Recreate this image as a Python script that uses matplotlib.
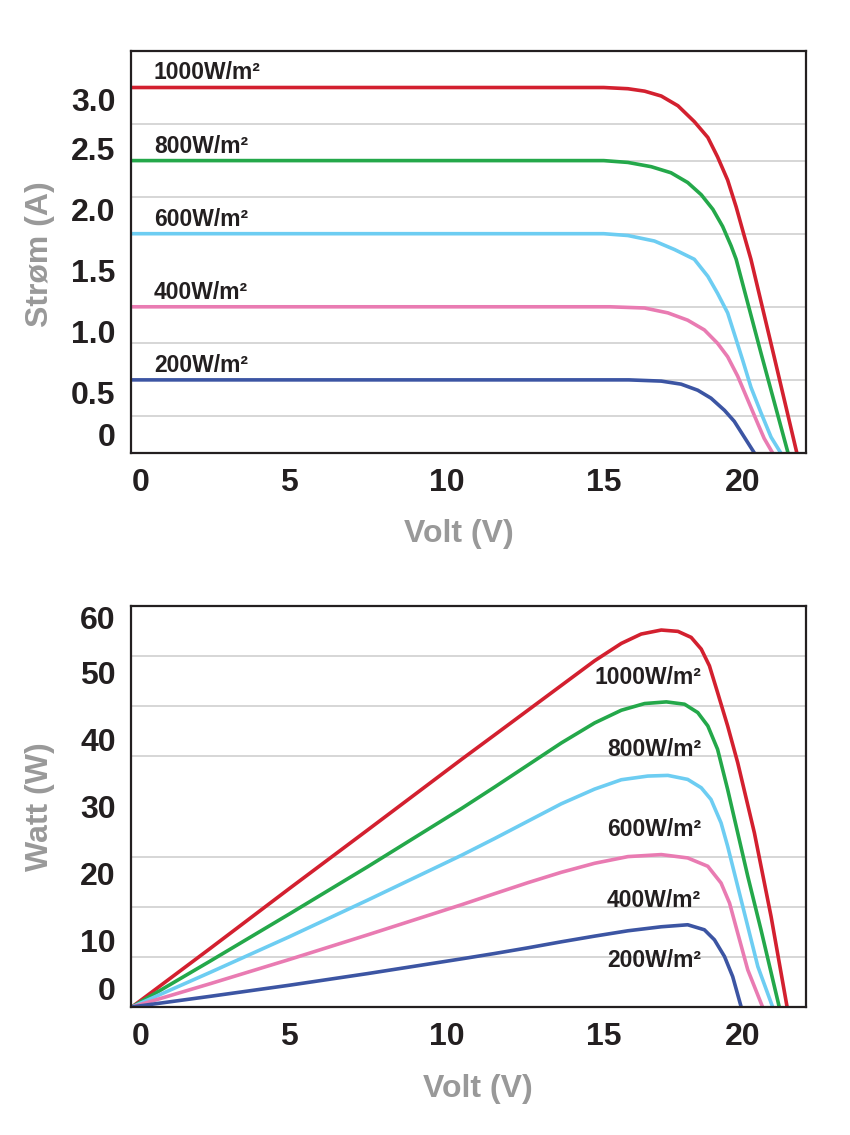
import matplotlib
matplotlib.use("Agg")
import matplotlib.pyplot as plt
from matplotlib.ticker import MultipleLocator, FixedLocator

plt.rcParams['font.family'] = ['Liberation Sans', 'DejaVu Sans']
plt.rcParams['font.weight'] = 'bold'

# irradiance levels (labels) and colours
levels = ['1000W/m²', '800W/m²', '600W/m²', '400W/m²', '200W/m²']
colors = ['#d3202f', '#24a84a', '#6dcdf2', '#e97bb2', '#3c55a3']

# I-V curves (volt, ampere)
iv_v_1000 = [0, 15.0, 15.77, 16.3, 16.83, 17.36, 17.88, 18.31, 18.62, 18.94, 19.21, 19.47, 19.68, 20.4, 21.14]
iv_a_1000 = [3.0, 3.0, 2.99, 2.97, 2.93, 2.85, 2.72, 2.59, 2.43, 2.24, 2.02, 1.78, 1.59, 0.81, 0]
iv_v_800 = [0, 15.0, 15.77, 16.51, 17.14, 17.67, 18.1, 18.47, 18.78, 19.05, 19.21, 20.0, 20.86]
iv_a_800 = [2.4, 2.4, 2.385, 2.35, 2.30, 2.22, 2.12, 2.0, 1.86, 1.70, 1.59, 0.82, 0]
iv_v_600 = [0, 15.0, 15.77, 16.61, 17.25, 17.88, 18.31, 18.62, 18.94, 19.15, 19.42, 19.68, 20.0, 20.32, 20.63]
iv_a_600 = [1.8, 1.8, 1.785, 1.74, 1.67, 1.59, 1.45, 1.31, 1.15, 0.98, 0.76, 0.54, 0.33, 0.13, 0]
iv_v_400 = [0, 15.2, 16.3, 17.04, 17.67, 18.2, 18.62, 18.94, 19.26, 19.58, 19.9, 20.1, 20.37]
iv_a_400 = [1.2, 1.2, 1.19, 1.15, 1.09, 1.01, 0.90, 0.79, 0.63, 0.435, 0.24, 0.12, 0]
iv_v_200 = [0, 15.8, 16.83, 17.46, 17.99, 18.41, 18.84, 19.15, 19.47, 19.79]
iv_a_200 = [0.6, 0.6, 0.59, 0.565, 0.515, 0.45, 0.35, 0.26, 0.13, 0]

# P-V curves (volt, watt)
pv_v_1000 = [0, 2.5, 5.0, 7.5, 10.48, 11.53, 12.59, 13.65, 14.71, 15.56, 16.19, 16.83, 17.36, 17.78, 18.1,
	18.36, 18.62, 18.94, 19.26, 19.79, 20.32, 20.83]
pv_w_1000 = [0, 8.8, 17.7, 26.5, 37.05, 40.7, 44.4, 48.1, 51.8, 54.4, 55.8, 56.4, 56.2, 55.3, 53.55,
	51.05, 47.05, 42.05, 36.55, 26.05, 13.55, 0]
pv_v_800 = [0, 2.5, 5.0, 7.5, 10.48, 11.53, 12.59, 13.65, 14.71, 15.56, 16.3, 16.99, 17.57, 17.99, 18.31,
	18.62, 18.94, 19.26, 19.58, 20.0, 20.58]
pv_w_800 = [0, 6.9, 13.9, 21.0, 29.7, 32.9, 36.2, 39.5, 42.5, 44.4, 45.4, 45.65, 45.3, 44.05, 42.05,
	38.55, 32.55, 26.05, 19.55, 11.55, 0]
pv_v_600 = [0, 2.5, 5.0, 7.5, 10.48, 11.53, 12.59, 13.65, 14.71, 15.56, 16.4, 17.04, 17.67, 18.1, 18.41,
	18.73, 18.94, 19.26, 19.58, 19.9, 20.37]
pv_w_600 = [0, 5.2, 10.5, 16.0, 22.7, 25.2, 27.8, 30.4, 32.6, 34.0, 34.55, 34.65, 34.05, 32.8, 31.05,
	27.55, 24.05, 18.05, 12.05, 6.05, 0]
pv_v_400 = [0, 2.5, 5.0, 7.5, 10.48, 11.53, 12.59, 13.65, 14.71, 15.77, 16.83, 17.67, 18.31, 18.73, 19.0,
	19.26, 19.58, 20.05]
pv_w_400 = [0, 3.5, 7.1, 10.8, 15.3, 16.95, 18.6, 20.15, 21.5, 22.5, 22.8, 22.3, 21.05, 18.55, 15.55,
	11.05, 5.55, 0]
pv_v_200 = [0, 2.5, 5.0, 7.5, 10.48, 11.53, 12.59, 13.65, 14.71, 15.77, 16.83, 17.67, 18.2, 18.52, 18.84,
	19.1, 19.37]
pv_w_200 = [0, 1.6, 3.25, 5.0, 7.2, 8.0, 8.85, 9.75, 10.6, 11.4, 12.0, 12.3, 11.55, 10.05, 7.55, 4.55, 0]

x_ticks = [0, 5, 10, 15, 20]
x_inner_ticks = [5, 10, 15]
a_ticks = [0, 0.5, 1.0, 1.5, 2.0, 2.5, 3.0]
a_ticklabels = ['0', '0.5', '1.0', '1.5', '2.0', '2.5', '3.0']
w_ticks = [0, 10, 20, 30, 40, 50, 60]

iv_v = [iv_v_1000, iv_v_800, iv_v_600, iv_v_400, iv_v_200]
iv_a = [iv_a_1000, iv_a_800, iv_a_600, iv_a_400, iv_a_200]
pv_v = [pv_v_1000, pv_v_800, pv_v_600, pv_v_400, pv_v_200]
pv_w = [pv_w_1000, pv_w_800, pv_w_600, pv_w_400, pv_w_200]

dark = '#231f20'
grey = '#999999'

fig = plt.figure(figsize=(8.5, 11.35), dpi=100)
ax1 = fig.add_axes([0.1541, 0.6009, 0.7941, 0.3542])
ax2 = fig.add_axes([0.1541, 0.1128, 0.7941, 0.3533])


def style(ax, ymax, gridstep, yticks, ylabels):
	ax.set_xlim(-0.03, 21.43)
	ax.set_ylim(0, ymax)
	for s in ax.spines.values():
		s.set_color(dark)
		s.set_linewidth(1.6)
	ax.set_axisbelow(True)
	ax.yaxis.set_minor_locator(MultipleLocator(gridstep))
	ax.grid(axis='y', which='minor', color='#cccccc', lw=1.1)
	ax.set_yticks(yticks, ylabels)
	ax.set_xticks(x_ticks)
	ax.xaxis.set_minor_locator(FixedLocator(x_inner_ticks))
	ax.tick_params(axis='y', which='both', length=0, pad=11, labelsize=23, labelcolor=dark)
	ax.tick_params(axis='x', which='major', length=0, pad=11, labelsize=23, labelcolor=dark)
	ax.tick_params(axis='x', which='minor', direction='in', length=9, width=1.6, color=dark)
	xl = ax.get_xticklabels()
	xl[0].set_horizontalalignment('left')
	xl[-1].set_horizontalalignment('right')
	yl = ax.get_yticklabels()
	yl[0].set_verticalalignment('bottom')
	yl[-1].set_verticalalignment('top')


# I-V chart
for k in range(5):
	ax1.plot(iv_v[k], iv_a[k], color=colors[k], lw=2.6, solid_capstyle='butt', solid_joinstyle='round')
	ax1.annotate(levels[k], (0.7, iv_a[k][0]), xytext=(0, 10.5), textcoords='offset points',
		fontsize=16.5, color=dark, ha='left', va='center')
style(ax1, 3.3, 0.3, a_ticks, a_ticklabels)
ax1.set_xlabel('Volt (V)', fontsize=23, color=grey, fontweight='bold')
ax1.set_ylabel('Strøm (A)', fontsize=23, color=grey, fontweight='bold')
ax1.xaxis.set_label_coords(0.486, -0.164)
ax1.yaxis.set_label_coords(-0.112, 0.495)

# P-V chart
label_w = [49.3, 38.5, 26.5, 16.0, 7.0]
for k in range(5):
	ax2.plot(pv_v[k], pv_w[k], color=colors[k], lw=2.6, solid_capstyle='butt', solid_joinstyle='round')
	ax2.text(18.1, label_w[k], levels[k], fontsize=16.5, color=dark, ha='right', va='center')
style(ax2, 60, 7.5, w_ticks, [str(t) for t in w_ticks])
ax2.set_xlabel('Volt (V)', fontsize=23, color=grey, fontweight='bold')
ax2.set_ylabel('Watt (W)', fontsize=23, color=grey, fontweight='bold')
ax2.xaxis.set_label_coords(0.514, -0.167)
ax2.yaxis.set_label_coords(-0.112, 0.499)

fig.savefig('out.png', dpi=100)
